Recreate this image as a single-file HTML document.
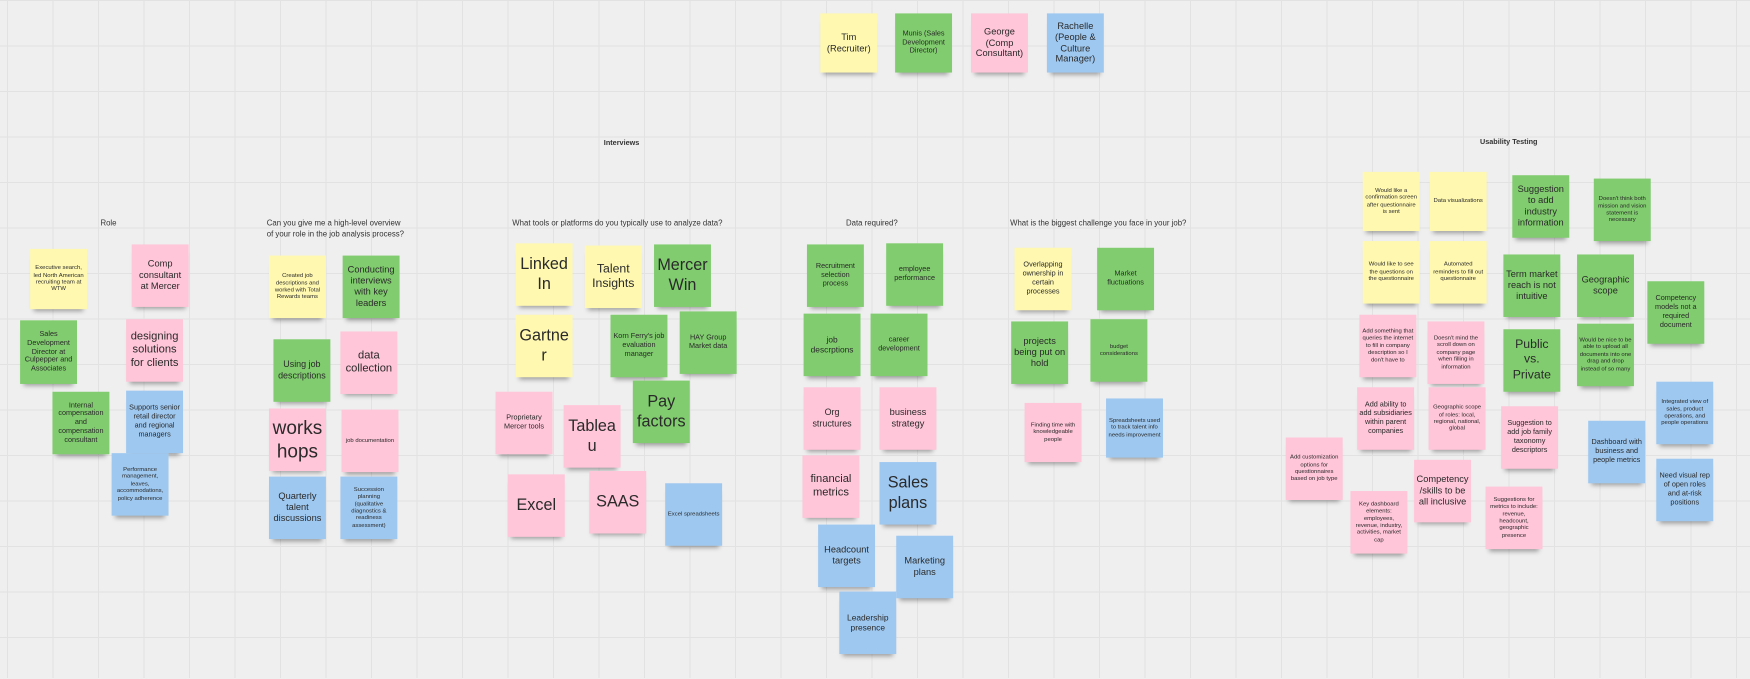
<!DOCTYPE html>
<html><head><meta charset="utf-8"><style>
html,body{margin:0;padding:0;width:1750px;height:678px;overflow:hidden;background:#efefef;}
#bg{position:absolute;left:0;top:0;width:1750px;height:678px;
background-image:linear-gradient(to right,#e2e2e2 1px,transparent 1px),linear-gradient(to bottom,#e2e2e2 1px,transparent 1px);
background-size:45.5px 45.5px;background-position:7px 0px;}
#w{position:absolute;left:0;top:0;width:1568px;height:608px;transform:scale(1.1161);transform-origin:0 0;font-family:"Liberation Sans",sans-serif;}
.n{position:absolute;width:51px;height:56px;display:flex;align-items:center;justify-content:center;text-align:center;color:#2a2a2a;line-height:1.2;box-sizing:border-box;padding:2px;box-shadow:0 5px 4px -3px rgba(0,0,0,0.35);overflow:hidden;word-break:break-word}
.y{background:#fff8b0}.g{background:#80cc6e}.p{background:#ffc5d8}.b{background:#9ec8f0}
.t{font-size:5.3px}.s{font-size:6.5px}.m{font-size:8.3px}.l{font-size:14.5px;line-height:1.25}.ml{font-size:10px}
.h{position:absolute;font-size:7px;color:#333;white-space:nowrap;line-height:1.45}
</style></head><body><div id="bg"></div><div id="w">
<div class="n y m" style="left:735px;top:12px;height:53px">Tim (Recruiter)</div>
<div class="n g s" style="left:802px;top:12px;height:53px">Munis (Sales Development Director)</div>
<div class="n p m" style="left:870px;top:12px;height:53px">George (Comp Consultant)</div>
<div class="n b m" style="left:938px;top:12px;height:53px">Rachelle (People &amp; Culture Manager)</div>

<div class="h" style="left:541px;top:124px;font-weight:bold;font-size:6.5px">Interviews</div>
<div class="h" style="left:1326px;top:123px;font-weight:bold;font-size:6.5px">Usability Testing</div>
<div class="h" style="left:90px;top:196px">Role</div>
<div class="h" style="left:239px;top:196px">Can you give me a high-level overview<br>of your role in the job analysis process?</div>
<div class="h" style="left:459px;top:196px">What tools or platforms do you typically use to analyze data?</div>
<div class="h" style="left:758px;top:196px">Data required?</div>
<div class="h" style="left:905px;top:196px">What is the biggest challenge you face in your job?</div>

<div class="n y t" style="left:27px;top:223px;height:54px">Executive search, led North American recruiting team at WTW</div>
<div class="n p m" style="left:118px;top:219px">Comp consultant at Mercer</div>
<div class="n g s" style="left:18px;top:287px;height:57px">Sales Development Director at Culpepper and Associates</div>
<div class="n p ml" style="left:113px;top:286px">designing solutions for clients</div>
<div class="n g s" style="left:47px;top:351px">Internal compensation and compensation consultant</div>
<div class="n b s" style="left:113px;top:350px">Supports senior retail director and regional managers</div>
<div class="n b t" style="left:100px;top:406px">Performance management, leaves, accommodations, policy adherence</div>

<div class="n y t" style="left:241px;top:229px">Created job descriptions and worked with Total Rewards teams</div>
<div class="n g m" style="left:307px;top:229px">Conducting interviews with key leaders</div>
<div class="n g s" style="left:245px;top:304px;font-size:8px">Using job descriptions</div>
<div class="n p ml" style="left:305px;top:297px">data collection</div>
<div class="n p l" style="left:241px;top:366px;font-size:17px">works hops</div>
<div class="n p t" style="left:306px;top:367px">job documentation</div>
<div class="n b m" style="left:241px;top:427px">Quarterly talent discussions</div>
<div class="n b t" style="left:305px;top:427px">Succession planning (qualitative diagnostics &amp; readiness assessment)</div>

<div class="n y l" style="left:462px;top:218px">Linked In</div>
<div class="n y ml" style="left:524px;top:220px;font-size:11px">Talent Insights</div>
<div class="n g l" style="left:586px;top:219px">Mercer Win</div>
<div class="n y l" style="left:462px;top:282px">Gartner</div>
<div class="n g s" style="left:547px;top:282px">Korn Ferry's job evaluation manager</div>
<div class="n g s" style="left:609px;top:279px">HAY Group Market data</div>
<div class="n p s" style="left:444px;top:351px">Proprietary Mercer tools</div>
<div class="n p l" style="left:505px;top:363px">Tableau</div>
<div class="n g l" style="left:567px;top:341px">Pay factors</div>
<div class="n p l" style="left:455px;top:425px">Excel</div>
<div class="n p l" style="left:528px;top:422px">SAAS</div>
<div class="n b t" style="left:596px;top:433px">Excel spreadsheets</div>

<div class="n g s" style="left:723px;top:219px">Recruitment selection process</div>
<div class="n g s" style="left:794px;top:218px">employee performance</div>
<div class="n g s" style="left:720px;top:281px;font-size:7.5px">job descrptions</div>
<div class="n g s" style="left:780px;top:281px">career development</div>
<div class="n p s" style="left:720px;top:347px;font-size:8px">Org structures</div>
<div class="n p m" style="left:788px;top:347px">business strategy</div>
<div class="n p ml" style="left:719px;top:408px">financial metrics</div>
<div class="n b l" style="left:788px;top:414px">Sales plans</div>
<div class="n b m" style="left:733px;top:470px">Headcount targets</div>
<div class="n b m" style="left:803px;top:480px">Marketing plans</div>
<div class="n b s" style="left:752px;top:530px;font-size:7.5px">Leadership presence</div>

<div class="n y s" style="left:909px;top:222px">Overlapping ownership in certain processes</div>
<div class="n g s" style="left:983px;top:222px">Market fluctuations</div>
<div class="n g m" style="left:906px;top:288px">projects being put on hold</div>
<div class="n g t" style="left:977px;top:286px">budget considerations</div>
<div class="n p t" style="left:918px;top:361px;height:53px">Finding time with knowledgeable people</div>
<div class="n b t" style="left:991px;top:357px;height:53px">Spreadsheets used to track talent info needs improvement</div>

<div class="n y t" style="left:1221px;top:154px;height:53px">Would like a confirmation screen after questionnaire is sent</div>
<div class="n y t" style="left:1281px;top:154px;height:53px">Data visualizations</div>
<div class="n g m" style="left:1355px;top:157px">Suggestion to add industry information</div>
<div class="n g t" style="left:1428px;top:160px">Doesn't think both mission and vision statement is necessary</div>
<div class="n y t" style="left:1221px;top:216px">Would like to see the questions on the questionnaire</div>
<div class="n y t" style="left:1281px;top:216px">Automated reminders to fill out questionnaire</div>
<div class="n g m" style="left:1347px;top:228px">Term market reach is not intuitive</div>
<div class="n g m" style="left:1413px;top:228px">Geographic scope</div>
<div class="n g s" style="left:1476px;top:252px">Competency models not a required document</div>
<div class="n p t" style="left:1218px;top:282px">Add something that queries the internet to fill in company description so I don't have to</div>
<div class="n p t" style="left:1279px;top:288px">Doesn't mind the scroll down on company page when filling in information</div>
<div class="n g ml" style="left:1347px;top:295px;font-size:11px">Public vs. Private</div>
<div class="n g t" style="left:1413px;top:290px">Would be nice to be able to upload all documents into one drag and drop instead of so many</div>
<div class="n b t" style="left:1484px;top:342px">Integrated view of sales, product operations, and people operations</div>
<div class="n p s" style="left:1216px;top:347px">Add ability to add subsidiaries within parent companies</div>
<div class="n p t" style="left:1280px;top:347px">Geographic scope of roles: local, regional, national, global</div>
<div class="n p s" style="left:1345px;top:364px">Suggestion to add job family taxonomy descriptors</div>
<div class="n b s" style="left:1423px;top:377px">Dashboard with business and people metrics</div>
<div class="n p t" style="left:1152px;top:392px">Add customization options for questionnaires based on job type</div>
<div class="n p m" style="left:1267px;top:412px">Competency/skills to be all inclusive</div>
<div class="n b s" style="left:1484px;top:411px">Need visual rep of open roles and at-risk positions</div>
<div class="n p t" style="left:1210px;top:440px">Key dashboard elements: employees, revenue, industry, activities, market cap</div>
<div class="n p t" style="left:1331px;top:436px">Suggestions for metrics to include: revenue, headcount, geographic presence</div>
</div></body></html>
